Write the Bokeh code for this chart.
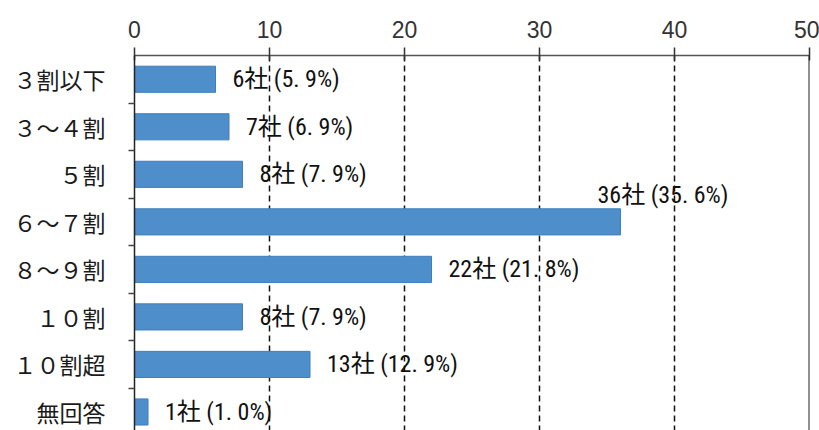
from bokeh.plotting import figure
from bokeh.models import Range1d, FixedTicker, Span, ColumnDataSource
from bokeh.core.properties import value
from bokeh.embed import file_html
from bokeh.resources import INLINE

categories = ["３割以下", "３～４割", "５割", "６～７割", "８～９割", "１０割", "１０割超", "無回答"]
counts = [6, 7, 8, 36, 22, 8, 13, 1]
percents = [5.9, 6.9, 7.9, 35.6, 21.8, 7.9, 12.9, 1.0]
x_ticks = [0, 10, 20, 30, 40, 50]

pos = list(range(len(categories)))
labels = [f"{c}社 ({p:.1f}%)".replace(".", ". ") for c, p in zip(counts, percents)]

p = figure(width=819, height=430, output_backend="svg", toolbar_location=None,
           x_axis_location="above",
           x_range=Range1d(0, 50), y_range=Range1d(7.39, -0.5),
           min_border_left=134, min_border_right=10, min_border_top=55, min_border_bottom=0)
p.outline_line_color = None
p.background_fill_color = "white"

src = ColumnDataSource(dict(y=pos, v=counts, lab=labels))
p.hbar(y="y", left=0, right="v", height=0.55, source=src,
       fill_color="#4e8ecb", line_color="#3f7fbd", line_width=1)

mx = max(counts)
normal = ColumnDataSource(dict(y=[y for y, v in zip(pos, counts) if v != mx],
                               v=[v for v in counts if v != mx],
                               lab=[l for l, v in zip(labels, counts) if v != mx]))
top = ColumnDataSource(dict(y=[y for y, v in zip(pos, counts) if v == mx],
                            v=[v for v in counts if v == mx],
                            lab=[l for l, v in zip(labels, counts) if v == mx]))
font = value("Roboto Condensed, DejaVu Sans Condensed, Liberation Sans Narrow, Noto Sans CJK JP")
p.text(x="v", y="y", text="lab", source=normal, x_offset=17, text_baseline="middle",
       text_align="left", text_font=font, text_font_size="24px", text_color="#111111")
p.text(x="v", y="y", text="lab", source=top, x_offset=-23, y_offset=-27, text_baseline="middle",
       text_align="left", text_font=font, text_font_size="24px", text_color="#111111")

# grid
p.ygrid.visible = False
p.xgrid.ticker = FixedTicker(ticks=[10, 20, 30, 40])
p.xgrid.grid_line_color = "#111111"
p.xgrid.grid_line_dash = "6 4"
p.xgrid.grid_line_width = 1.5
p.add_layout(Span(location=50, dimension="height", line_color="#222222", line_width=2))

# x axis (top)
xa = p.xaxis[0]
xa.ticker = FixedTicker(ticks=x_ticks)
xa.axis_line_color = "#555555"
xa.axis_line_width = 1.5
xa.major_tick_line_color = "#333333"
xa.major_tick_line_width = 1.5
xa.major_tick_out = 8
xa.major_tick_in = 5
xa.minor_tick_line_color = None
xa.major_label_text_font = "Liberation Sans"
xa.major_label_text_font_size = "23px"
xa.major_label_text_color = "#333333"
xa.major_label_standoff = 10

# y axis (left)
ya = p.yaxis[0]
ya.ticker = FixedTicker(ticks=pos, minor_ticks=[i + 0.5 for i in pos[:-1]])
ya.major_label_overrides = {i: c for i, c in zip(pos, categories)}
ya.axis_line_color = "#222222"
ya.axis_line_width = 1.5
ya.major_tick_line_color = None
ya.major_tick_out = 0
ya.major_tick_in = 0
ya.minor_tick_line_color = "#444444"
ya.minor_tick_line_width = 1.5
ya.minor_tick_out = 6
ya.minor_tick_in = 0
ya.major_label_text_font = "Noto Sans CJK JP"
ya.major_label_text_font_size = "23px"
ya.major_label_text_color = "#1a1a1a"
ya.major_label_standoff = 23

open("out.html", "w").write(file_html(p, INLINE))
